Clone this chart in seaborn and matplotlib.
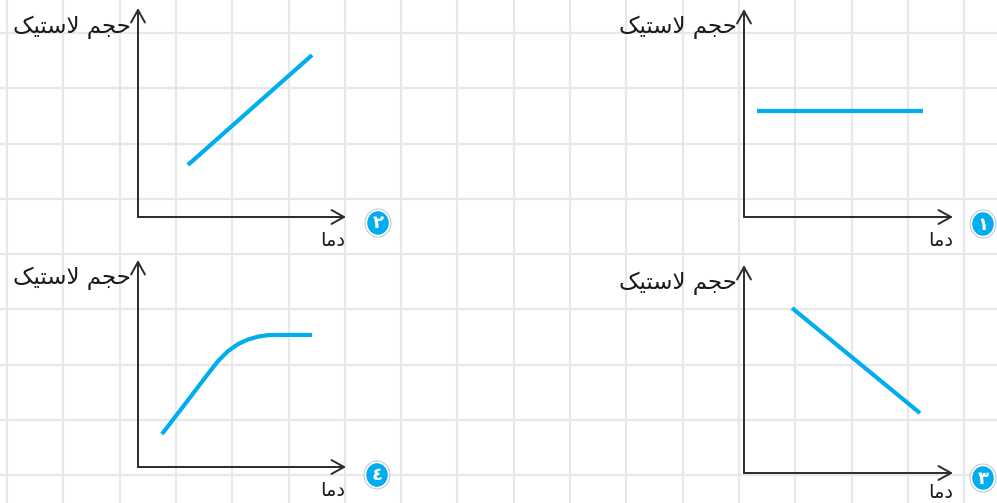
import matplotlib
matplotlib.use("Agg")
import matplotlib.pyplot as plt
from matplotlib.patches import Ellipse
import seaborn as sns

# ---------------- data ----------------
y_label = "حجم لاستیک"
x_label = "دما"
badges = ["۱", "۲", "۳", "٤"]

# panel 1: constant
p1_x = [0.62, 8.56]
p1_y = [5.10, 5.10]
# panel 2: increasing
p2_x = [2.40, 8.37]
p2_y = [2.49, 7.75]
# panel 3: decreasing
p3_x = [2.30, 8.42]
p3_y = [7.93, 2.88]
# panel 4: increase then level off
p4_x = [1.15, 2.26, 3.32, 3.85, 4.33, 4.81, 5.29, 5.77, 6.25, 6.83, 8.37]
p4_y = [1.59, 3.04, 4.44, 5.12, 5.60, 5.94, 6.16, 6.30, 6.37, 6.38, 6.38]

# ---------------- minimal Arabic-script shaping ----------------
FORMS = {
    'ا': ('\uFE8D', '\uFE8E', None, None),
    'د': ('\uFEA9', '\uFEAA', None, None),
    'م': ('\uFEE1', '\uFEE2', '\uFEE3', '\uFEE4'),
    'ح': ('\uFEA1', '\uFEA2', '\uFEA3', '\uFEA4'),
    'ج': ('\uFE9D', '\uFE9E', '\uFE9F', '\uFEA0'),
    'ل': ('\uFEDD', '\uFEDE', '\uFEDF', '\uFEE0'),
    'س': ('\uFEB1', '\uFEB2', '\uFEB3', '\uFEB4'),
    'ت': ('\uFE95', '\uFE96', '\uFE97', '\uFE98'),
    'ی': ('\uFBFC', '\uFBFD', '\uFBFE', '\uFBFF'),
    'ک': ('\uFB8E', '\uFB8F', '\uFB90', '\uFB91'),
    'LA': ('\uFEFB', '\uFEFC', None, None),
}


def shape(text):
    units = []
    i = 0
    while i < len(text):
        if text[i] == 'ل' and i + 1 < len(text) and text[i + 1] == 'ا':
            units.append('LA')
            i += 2
        else:
            units.append(text[i])
            i += 1
    out = []
    for k, u in enumerate(units):
        if u not in FORMS:
            out.append(u)
            continue
        prev = units[k - 1] if k > 0 else None
        nxt = units[k + 1] if k + 1 < len(units) else None
        jp = prev in FORMS and FORMS[prev][2] is not None
        jn = FORMS[u][2] is not None and nxt in FORMS
        iso, fin, ini, med = FORMS[u]
        if jp and jn:
            out.append(med)
        elif jp:
            out.append(fin)
        elif jn:
            out.append(ini)
        else:
            out.append(iso)
    return ''.join(reversed(out))


# ---------------- figure ----------------
sns.set_style("white")
plt.rcParams['font.family'] = ['DejaVu Sans']

W, H = 997, 503
fig = plt.figure(figsize=(W / 100, H / 100), dpi=100)
fig.patch.set_facecolor('white')

# background grid axes (1 unit = 1 pixel)
bg = fig.add_axes([0, 0, 1, 1])
bg.set_xlim(0, W)
bg.set_ylim(H, 0)
bg.set_xticks([7 + 56.3 * k for k in range(18)])
bg.set_yticks([33 + 55.25 * k for k in range(9)])
bg.grid(True, color='#e8e8e8', lw=1.6)
bg.tick_params(length=0, labelbottom=False, labelleft=False)
for s in bg.spines.values():
    s.set_visible(False)
bg.set_axisbelow(True)

BLUE = '#00AEEF'
AX_COL = '#2b2b2b'

panels = [
    # (x, y, left, right, bottom, top, badge, badge_xy, ylabel_xy, xlabel_xy)
    (p1_x, p1_y, 744, 953, 217, 9, badges[0], (983, 224), (737, 33), (941, 240)),
    (p2_x, p2_y, 138, 346, 217, 8, badges[1], (378, 223), (131, 33), (333, 240)),
    (p3_x, p3_y, 744, 953, 473, 265, badges[2], (983, 478), (737, 289), (941, 493)),
    (p4_x, p4_y, 138, 346, 467, 260, badges[3], (377, 475), (131, 284), (333, 490)),
]

for (xs, ys, l, r, b, t, bd, bxy, ylxy, xlxy) in panels:
    ax = fig.add_axes([l / W, 1 - b / H, (r - l) / W, (b - t) / H])
    ax.patch.set_alpha(0)
    ax.set_xlim(0, 10)
    ax.set_ylim(0, 10)
    ax.set_xticks([])
    ax.set_yticks([])
    for s in ax.spines.values():
        s.set_visible(False)
    sns.lineplot(x=xs, y=ys, ax=ax, color=BLUE, lw=3.0, sort=False,
                 solid_capstyle='butt', solid_joinstyle='round')
    arrow = dict(arrowstyle='->,head_length=0.9,head_width=0.5', color=AX_COL,
                 lw=1.4, shrinkA=0, shrinkB=0)
    ax.annotate('', xy=(1, 0), xytext=(0, 0), xycoords='axes fraction',
                textcoords='axes fraction', arrowprops=arrow, annotation_clip=False)
    ax.annotate('', xy=(0, 1), xytext=(0, 0), xycoords='axes fraction',
                textcoords='axes fraction', arrowprops=arrow, annotation_clip=False)

    # labels
    bg.text(ylxy[0], ylxy[1], shape(y_label), ha='right', va='baseline',
            fontsize=16.5, color='#1a1a1a')
    bg.text(xlxy[0], xlxy[1], shape(x_label), ha='center', va='center',
            fontsize=14, color='#1a1a1a')

    # badge
    bg.add_patch(Ellipse(bxy, 27, 29, fc='#c4c4c4', ec='none', zorder=3))
    bg.add_patch(Ellipse(bxy, 25, 27, fc='white', ec='none', zorder=4))
    bg.add_patch(Ellipse(bxy, 21.5, 23.5, fc=BLUE, ec='none', zorder=5))
    bg.text(bxy[0], bxy[1] + 0.5, bd, ha='center', va='center', color='white',
            fontsize=13, fontweight='bold', zorder=6)

fig.savefig('out.png', dpi=100)
